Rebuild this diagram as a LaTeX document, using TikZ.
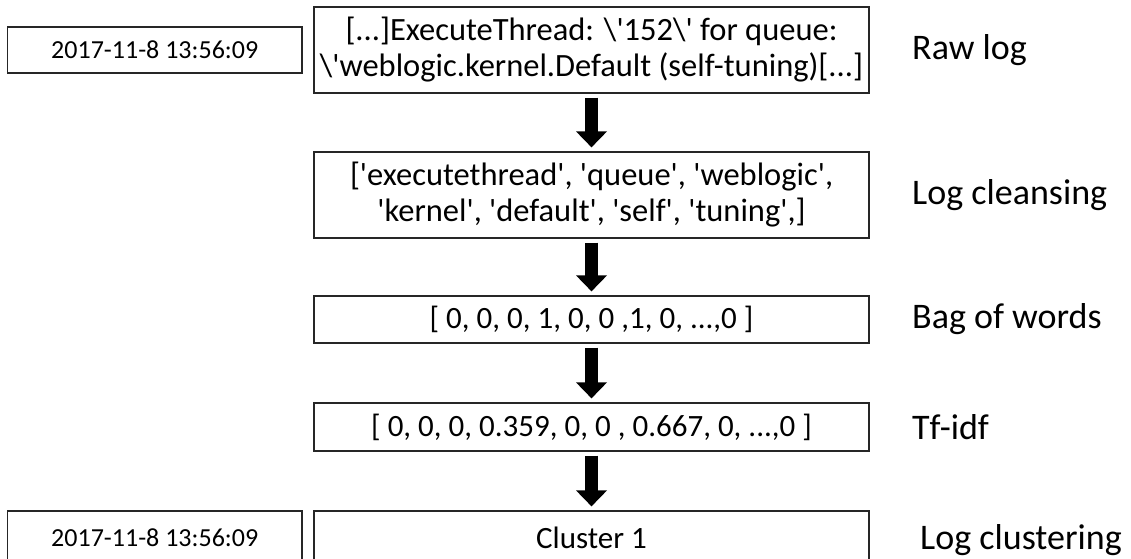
\documentclass[tikz,border=0pt]{standalone}
\usepackage{fontspec}
\setmainfont{Carlito}
\usetikzlibrary{arrows.meta}
% straight single quote and backslash as printed in the log text
\newcommand{\sq}{\textquotesingle}
\newcommand{\bs}{\textbackslash}
\begin{document}
\begin{tikzpicture}[x=1pt,y=-1pt,
  box/.style={draw=black!85, line width=1.2pt, inner sep=0pt, align=center,
              font=\fontsize{31}{36}\selectfont},
  datebox/.style={box, font=\fontsize{26}{30}\selectfont,
                  minimum width=294.5pt},
  mainbox/.style={box, minimum width=555pt},
  wordbox/.style={mainbox, font=\fontsize{32.5}{36}\selectfont},
  stage/.style={anchor=west, inner sep=0pt, font=\fontsize{36}{42}\selectfont},
  flow/.style={line width=13pt, black,
               -{Triangle[width=30pt,length=16pt]},
               shorten <=4pt, shorten >=4pt}]
\useasboundingbox (0,0) rectangle (1131,558);
\clip (0,0) rectangle (1131,558);

% timestamp boxes on the left
\node[datebox, minimum height=46pt] (d1) at (154.75,50) {2017-11-8 13:56:09};
\node[datebox, minimum height=54pt] (d2) at (154.75,538) {2017-11-8 13:56:09};

% processing chain
\node[wordbox, minimum height=86pt] (raw) at (591.5,50)
  {[...]ExecuteThread: \bs\sq152\bs\sq{} for queue:\\
   \bs\sq weblogic.kernel.Default (self-tuning)[...]};
\node[wordbox, minimum height=86pt] (clean) at (591.5,195)
  {[\sq executethread\sq, \sq queue\sq, \sq weblogic\sq,\\
   \sq kernel\sq, \sq default\sq, \sq self\sq, \sq tuning\sq,]};
\node[mainbox, minimum height=47pt] (bow) at (591.5,319.5)
  {[ 0, 0, 0, 1, 0, 0 ,1, 0, ...,0 ]};
\node[mainbox, minimum height=48pt] (tfidf) at (591.5,427)
  {[ 0, 0, 0, 0.359, 0, 0 , 0.667, 0, ...,0 ]};
\node[mainbox, minimum height=54pt] (clu) at (591.5,538) {Cluster 1};

% arrows between stages
\draw[flow] (raw) -- (clean);
\draw[flow] (clean) -- (bow);
\draw[flow] (bow) -- (tfidf);
\draw[flow] (tfidf) -- (clu);

% stage names
\node[stage] (l1) at (912,50) {Raw log};
\node[stage] (l2) at (912,195) {Log cleansing};
\node[stage] (l3) at (912,319.5) {Bag of words};
\node[stage] (l4) at (912,427) {Tf-idf};
\node[stage] (l5) at (920,540) {Log clustering};
\end{tikzpicture}
\end{document}
